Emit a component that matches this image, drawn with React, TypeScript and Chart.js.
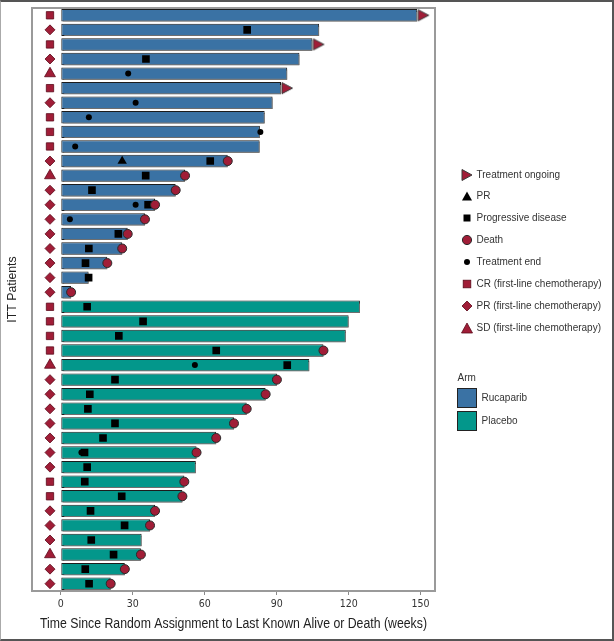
import React, { useEffect, useRef } from 'react';
import { Chart, registerables } from 'chart.js';

Chart.register(...registerables);

// ---------- data ----------
const patients = [
  'P01', 'P02', 'P03', 'P04', 'P05', 'P06', 'P07', 'P08', 'P09', 'P10',
  'P11', 'P12', 'P13', 'P14', 'P15', 'P16', 'P17', 'P18', 'P19', 'P20',
  'P21', 'P22', 'P23', 'P24', 'P25', 'P26', 'P27', 'P28', 'P29', 'P30',
  'P31', 'P32', 'P33', 'P34', 'P35', 'P36', 'P37', 'P38', 'P39', 'P40',
];

const arms = [
  'Rucaparib', 'Rucaparib', 'Rucaparib', 'Rucaparib', 'Rucaparib', 'Rucaparib', 'Rucaparib', 'Rucaparib', 'Rucaparib', 'Rucaparib',
  'Rucaparib', 'Rucaparib', 'Rucaparib', 'Rucaparib', 'Rucaparib', 'Rucaparib', 'Rucaparib', 'Rucaparib', 'Rucaparib', 'Rucaparib',
  'Placebo', 'Placebo', 'Placebo', 'Placebo', 'Placebo', 'Placebo', 'Placebo', 'Placebo', 'Placebo', 'Placebo',
  'Placebo', 'Placebo', 'Placebo', 'Placebo', 'Placebo', 'Placebo', 'Placebo', 'Placebo', 'Placebo', 'Placebo',
];

// weeks from random assignment to last known alive or death
const weeks = [
  148.6, 107.7, 104.9, 99.5, 94.4, 91.8, 88.3, 85.0, 83.0, 82.9,
  69.6, 51.8, 47.9, 39.3, 35.1, 27.9, 25.6, 19.4, 11.6, 4.3,
  124.7, 120.0, 118.8, 109.5, 103.6, 90.1, 85.4, 77.5, 72.2, 64.8,
  56.6, 56.3, 51.5, 50.7, 39.3, 37.2, 33.7, 33.4, 26.7, 20.8,
];

// response to first-line chemotherapy
const firstLine = [
  'CR', 'PR', 'CR', 'PR', 'SD', 'CR', 'PR', 'CR', 'CR', 'CR',
  'PR', 'SD', 'PR', 'PR', 'PR', 'PR', 'PR', 'PR', 'PR', 'PR',
  'CR', 'CR', 'CR', 'CR', 'SD', 'PR', 'PR', 'PR', 'PR', 'PR',
  'PR', 'PR', 'CR', 'CR', 'PR', 'PR', 'PR', 'SD', 'PR', 'PR',
];
const firstLineWeek = -4.5;

const ongoingPatients = ['P01', 'P03', 'P06'];

const prPatients = ['P11'];
const prWeeks = [25.6];

const pdPatients = [
  'P02', 'P04', 'P11', 'P12', 'P13', 'P14', 'P16', 'P17', 'P18', 'P19',
  'P21', 'P22', 'P23', 'P24', 'P25', 'P26', 'P27', 'P28', 'P29', 'P30',
  'P31', 'P32', 'P33', 'P34', 'P35', 'P36', 'P37', 'P38', 'P39', 'P40',
];
const pdWeeks = [
  77.7, 35.5, 62.3, 35.4, 13.0, 36.4, 24.0, 11.7, 10.3, 11.6,
  11.0, 34.3, 24.2, 64.8, 94.4, 22.6, 12.1, 11.3, 22.6, 17.6,
  9.9, 11.0, 10.0, 25.4, 12.4, 26.6, 12.7, 22.0, 10.2, 11.8,
];

const deathPatients = [
  'P11', 'P12', 'P13', 'P14', 'P15', 'P16', 'P17', 'P18', 'P20',
  'P24', 'P26', 'P27', 'P28', 'P29', 'P30', 'P31', 'P33', 'P34', 'P35', 'P36', 'P38', 'P39', 'P40',
];

const tePatients = ['P05', 'P07', 'P08', 'P09', 'P10', 'P14', 'P15', 'P25', 'P31'];
const teWeeks = [28.1, 31.2, 11.7, 83.2, 6.0, 31.2, 3.8, 55.9, 8.6];

const xTickValues = [0, 30, 60, 90, 120, 150];
const xTitle = 'Time Since Random Assignment to Last Known Alive or Death (weeks)';
const yTitle = 'ITT Patients';

// ---------- styles ----------
const BLUE = '#3A72A4';
const TEAL = '#03978B';
const RED = '#A01D37';
const NARROW = "'Liberation Sans Narrow', 'Arial Narrow', 'DejaVu Sans Condensed', sans-serif";
const SANS = "'Liberation Sans', Arial, Helvetica, sans-serif";

const weekOf = (p: string) => weeks[patients.indexOf(p)];

function makeOngoingImage(): HTMLCanvasElement {
  const c = document.createElement('canvas');
  c.width = 26;
  c.height = 14;
  const g = c.getContext('2d')!;
  g.beginPath();
  g.moveTo(14, 1.5);
  g.lineTo(24.5, 7);
  g.lineTo(14, 12.5);
  g.closePath();
  g.fillStyle = RED;
  g.fill();
  g.strokeStyle = '#3a3a3a';
  g.lineWidth = 1;
  g.stroke();
  return c;
}

const barShadow = {
  id: 'barShadow',
  beforeDatasetDraw(chart: any, args: any) {
    if (args.index === 0) {
      const c = chart.ctx;
      c.save();
      c.shadowColor = 'rgba(120,120,120,0.9)';
      c.shadowOffsetX = 2;
      c.shadowOffsetY = 2;
      c.shadowBlur = 0;
    }
  },
  afterDatasetDraw(chart: any, args: any) {
    if (args.index === 0) chart.ctx.restore();
  },
};

const plotFrame = {
  id: 'plotFrame',
  afterDraw(chart: any) {
    const { left, top, right, bottom } = chart.chartArea;
    const c = chart.ctx;
    c.save();
    c.strokeStyle = '#9a9a9a';
    c.lineWidth = 2;
    c.strokeRect(left, top, right - left, bottom - top);
    // axis titles (condensed x title via maxWidth)
    c.fillStyle = '#222';
    c.textAlign = 'center';
    c.textBaseline = 'middle';
    c.font = `14px ${SANS}`;
    c.fillText(xTitle, (left + right) / 2, bottom + 33.5, 387);
    c.translate(12.5, (top + bottom) / 2 - 10);
    c.rotate(-Math.PI / 2);
    c.font = `12.3px ${SANS}`;
    c.fillText(yTitle, 0, 0);
    c.restore();
  },
};

type Shape = 'ongoing' | 'pr' | 'pd' | 'death' | 'te' | 'cr1' | 'pr1' | 'sd1';
const legendLabels: { label: string; shape: Shape }[] = [
  { label: 'Treatment ongoing', shape: 'ongoing' },
  { label: 'PR', shape: 'pr' },
  { label: 'Progressive disease', shape: 'pd' },
  { label: 'Death', shape: 'death' },
  { label: 'Treatment end', shape: 'te' },
  { label: 'CR (first-line chemotherapy)', shape: 'cr1' },
  { label: 'PR (first-line chemotherapy)', shape: 'pr1' },
  { label: 'SD (first-line chemotherapy)', shape: 'sd1' },
];
const armLabels = ['Rucaparib', 'Placebo'];

function Symbol({ shape }: { shape: Shape }) {
  let el: React.ReactNode = null;
  switch (shape) {
    case 'ongoing':
      el = <polygon points="3,2.5 13,8 3,13.5" fill={RED} stroke="#3a3a3a" strokeWidth={1} />;
      break;
    case 'pr':
      el = <polygon points="3,12.5 8,3.5 13,12.5" fill="#000" />;
      break;
    case 'pd':
      el = <rect x={4.5} y={4.5} width={7} height={7} fill="#000" />;
      break;
    case 'death':
      el = <circle cx={8} cy={8} r={4.6} fill={RED} stroke="#2a2a2a" strokeWidth={1} />;
      break;
    case 'te':
      el = <circle cx={8} cy={8} r={3} fill="#000" />;
      break;
    case 'cr1':
      el = <rect x={4.2} y={4.2} width={7.6} height={7.6} fill={RED} stroke="#5a0a1a" strokeWidth={0.8} />;
      break;
    case 'pr1':
      el = <polygon points="8,3 13,8 8,13 3,8" fill={RED} stroke="#5a0a1a" strokeWidth={0.8} />;
      break;
    case 'sd1':
      el = <polygon points="2.5,13 8,3 13.5,13" fill={RED} stroke="#5a0a1a" strokeWidth={0.8} />;
      break;
  }
  return (
    <svg width={16} height={16} style={{ position: 'absolute', left: 459, top: 0 }}>
      {el}
    </svg>
  );
}

export default function App() {
  const canvasRef = useRef<HTMLCanvasElement | null>(null);

  useEffect(() => {
    const canvas = canvasRef.current;
    if (!canvas) return;
    const ongoingImg = makeOngoingImage();

    const firstLineSet = (code: string, style: string, radius: number, label: string, order: number) => ({
      type: 'scatter' as const,
      label,
      data: patients
        .map((p, i) => ({ p, i }))
        .filter(({ i }) => firstLine[i] === code)
        .map(({ p }) => ({ x: firstLineWeek, y: p })),
      pointStyle: style,
      pointRadius: radius,
      pointHoverRadius: radius,
      backgroundColor: RED,
      borderColor: '#5a0a1a',
      borderWidth: 0.8,
      order,
    });

    const chart = new Chart(canvas, {
      type: 'bar',
      data: {
        labels: patients,
        datasets: [
          {
            type: 'bar',
            label: 'Arm',
            data: weeks,
            backgroundColor: arms.map((a) => (a === 'Rucaparib' ? BLUE : TEAL)),
            borderColor: '#1c1c1c',
            borderWidth: 1,
            borderSkipped: false,
            barPercentage: 0.85,
            categoryPercentage: 1,
            order: 10,
          } as any,
          {
            type: 'scatter',
            label: 'Treatment end',
            data: tePatients.map((p, i) => ({ x: teWeeks[i], y: p })),
            pointStyle: 'circle',
            pointRadius: 3,
            pointHoverRadius: 3,
            backgroundColor: '#000',
            borderWidth: 0,
            order: 6,
          },
          {
            type: 'scatter',
            label: 'PR',
            data: prPatients.map((p, i) => ({ x: prWeeks[i], y: p })),
            pointStyle: 'triangle',
            pointRadius: 5.4,
            pointHoverRadius: 5.4,
            backgroundColor: '#000',
            borderWidth: 0,
            order: 5,
          },
          {
            type: 'scatter',
            label: 'Progressive disease',
            data: pdPatients.map((p, i) => ({ x: pdWeeks[i], y: p })),
            pointStyle: 'rect',
            pointRadius: 5.4,
            pointHoverRadius: 5.4,
            backgroundColor: '#000',
            borderWidth: 0,
            order: 4,
          },
          {
            type: 'scatter',
            label: 'Death',
            data: deathPatients.map((p) => ({ x: weekOf(p), y: p })),
            pointStyle: 'circle',
            pointRadius: 4.5,
            pointHoverRadius: 4.5,
            backgroundColor: RED,
            borderColor: '#2a2a2a',
            borderWidth: 1,
            order: 3,
          },
          {
            type: 'scatter',
            label: 'Treatment ongoing',
            data: ongoingPatients.map((p) => ({ x: weekOf(p), y: p })),
            pointStyle: ongoingImg as any,
            pointRadius: 6,
            pointHoverRadius: 6,
            order: 2,
          },
          firstLineSet('CR', 'rect', 5.2, 'CR (first-line chemotherapy)', 1),
          firstLineSet('PR', 'rectRot', 5, 'PR (first-line chemotherapy)', 1),
          firstLineSet('SD', 'triangle', 6.3, 'SD (first-line chemotherapy)', 1),
        ] as any,
      },
      options: {
        indexAxis: 'y',
        responsive: false,
        animation: false,
        events: [],
        devicePixelRatio: 1,
        layout: { padding: { left: 0, top: 8, right: 179, bottom: 2 } },
        plugins: {
          legend: { display: false },
          tooltip: { enabled: false },
        },
        scales: {
          x: {
            type: 'linear',
            min: -12,
            max: 156,
            afterBuildTicks: (s: any) => {
              s.ticks = xTickValues.map((v) => ({ value: v }));
            },
            afterFit: (s: any) => {
              s.height = 48;
            },
            grid: {
              display: true,
              drawOnChartArea: false,
              drawTicks: true,
              tickLength: 4,
              color: '#8a8a8a',
              lineWidth: 1,
            },
            border: { display: false },
            ticks: {
              font: { family: NARROW, size: 10.5 },
              color: '#333',
              padding: 3,
              maxRotation: 0,
              autoSkip: false,
            },
            title: { display: false },
          },
          y: {
            type: 'category',
            offset: true,
            afterFit: (s: any) => {
              s.width = 32;
            },
            grid: { display: false },
            border: { display: false },
            ticks: { display: false },
            title: { display: false },
          },
        },
      } as any,
      plugins: [barShadow, plotFrame],
    });

    return () => chart.destroy();
  }, []);

  const legendTop = 174.5;
  const legendStep = 21.9;

  return (
    <div style={{ position: 'absolute', left: 0, top: 0, width: 614, height: 641, background: '#fff', fontFamily: SANS }}>
      <canvas ref={canvasRef} width={614} height={641} style={{ position: 'absolute', left: 0, top: 0, width: 614, height: 641 }} />
      {legendLabels.map((item, i) => (
        <div key={item.label} style={{ position: 'absolute', left: 0, top: legendTop + i * legendStep - 8, width: 614, height: 16 }}>
          <Symbol shape={item.shape} />
          <span style={{ position: 'absolute', left: 476.5, top: 0, lineHeight: '16px', fontSize: 10, color: '#333', whiteSpace: 'nowrap' }}>
            {item.label}
          </span>
        </div>
      ))}
      <div style={{ position: 'absolute', left: 457.5, top: 371, lineHeight: '14px', fontSize: 10, color: '#333' }}>Arm</div>
      {armLabels.map((a, i) => (
        <div key={a} style={{ position: 'absolute', left: 0, top: 388 + i * 22.5, width: 614, height: 20 }}>
          <div style={{ position: 'absolute', left: 457, top: 0, width: 20, height: 20, boxSizing: 'border-box', border: '1px solid #222', background: a === 'Rucaparib' ? BLUE : TEAL }} />
          <span style={{ position: 'absolute', left: 481.5, top: 2, lineHeight: '16px', fontSize: 10, color: '#333', whiteSpace: 'nowrap' }}>{a}</span>
        </div>
      ))}
      <div style={{ position: 'absolute', left: 0, top: 0, width: 614, height: 641, boxSizing: 'border-box', borderTop: '2px solid #555', borderRight: '2px solid #555', borderBottom: '2px solid #555', borderLeft: '1px solid #aaa', pointerEvents: 'none' }} />
    </div>
  );
}
